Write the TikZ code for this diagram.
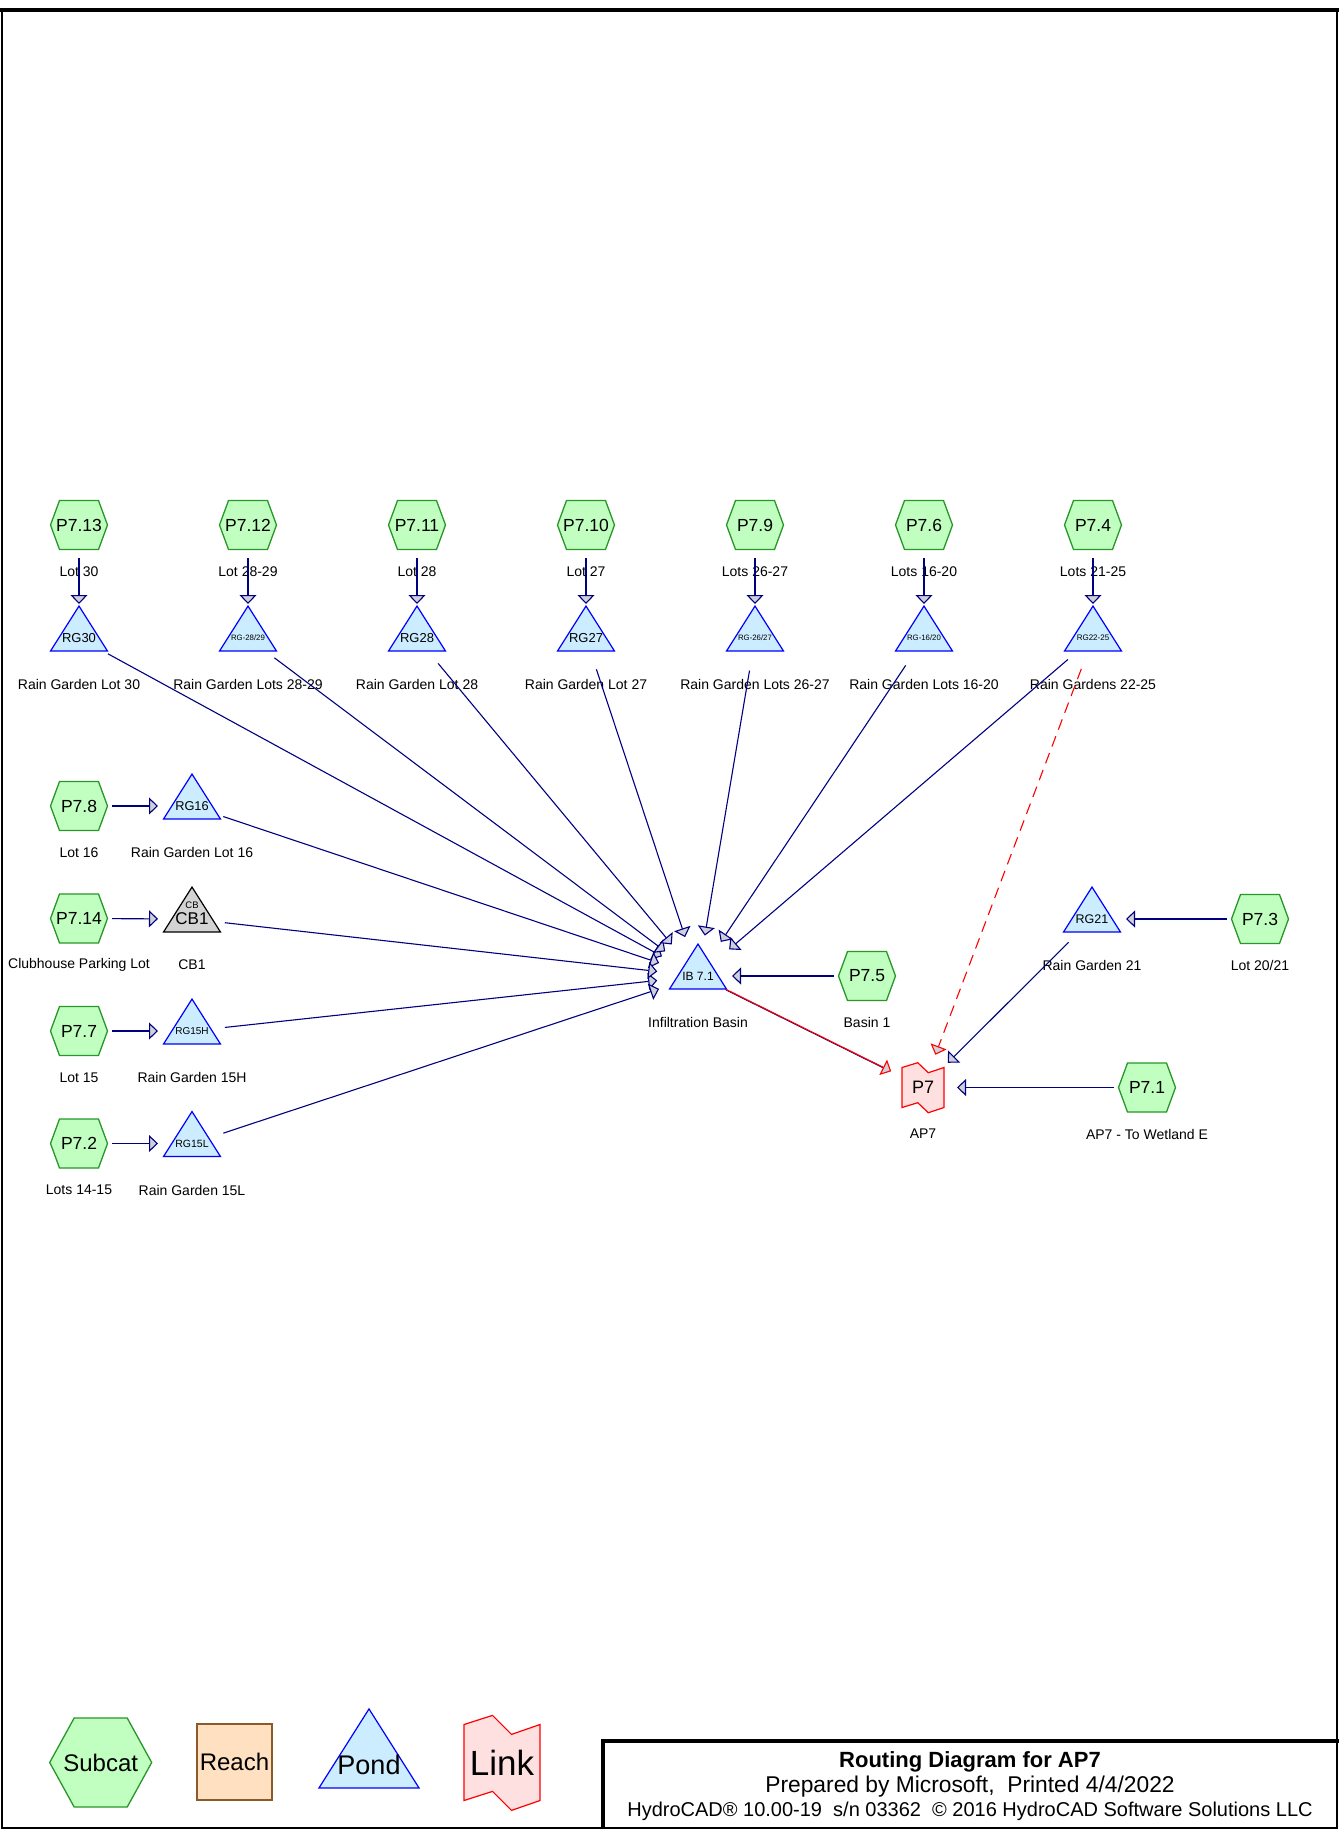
\documentclass[tikz,border=0pt]{standalone}
\usepackage{fontspec}
\setmainfont{Liberation Sans}
\usetikzlibrary{arrows.meta,calc}
\definecolor{flowNavy}{RGB}{0,0,128}
\definecolor{headGray}{RGB}{208,208,218}
\definecolor{subFill}{RGB}{192,255,192}
\definecolor{subLine}{RGB}{40,150,40}
\definecolor{pondFill}{RGB}{204,236,255}
\definecolor{pondLine}{RGB}{0,0,255}
\definecolor{linkFill}{RGB}{255,224,224}
\definecolor{reachFill}{RGB}{255,224,192}
\definecolor{reachLine}{RGB}{140,90,40}
\definecolor{cbFill}{RGB}{211,211,211}
\newcommand{\fs}[1]{\fontsize{#1pt}{#1pt}\selectfont}
\newcommand{\hexpath}[1]{(path picture bounding box.center) ++(-1,0) -- ++({1-#1},1) -- ++({2*#1},0) -- ++({1-#1},-1) -- ++({#1-1},-1) -- ++({-2*#1},0) -- cycle}
\newcommand{\tripath}{(path picture bounding box.center) ++(-1,-0.29) -- ++(2,0) -- ++(-1,1) -- cycle}
\newcommand{\linkpath}{(path picture bounding box.center) ++(-1,1) -- ++(0.75,0.24) -- ++(0.5,-0.5) -- ++(0.75,0.26) -- ++(0,-2) -- ++(-0.75,-0.26) -- ++(-0.5,0.5) -- ++(-0.75,-0.24) -- cycle}
\tikzset{
  shapebox/.style={rectangle, inner sep=0, text=black},
  subcat/.style n args={3}{shapebox, minimum width=2*#1+4, minimum height=2*#2+4,
    path picture={\filldraw[fill=subFill, draw=subLine, line width=1.3, x=#1pt, y=#2pt] \hexpath{#3};}},
  basin/.style n args={4}{shapebox, minimum width=2*#1+4, minimum height=2*#2+4,
    path picture={\filldraw[fill=#3, draw=#4, line width=1.2, x=#1pt, y=#2pt] \tripath;}},
  linkbox/.style 2 args={shapebox, minimum width=2*#1+4, minimum height=2.6*#2+4,
    path picture={\filldraw[fill=linkFill, draw=red, line width=1.2, x=#1pt, y=#2pt] \linkpath;}},
  hex/.style={subcat={28.5}{24.5}{0.684}, font=\fs{17.5}},
  pond/.style={basin={28.5}{45}{pondFill}{pondLine}, font=\fs{13}},
  lbl/.style={inner sep=0, font=\fs{14}},
  flow/.style={draw=flowNavy, line width=1.1, -{Triangle[length=9pt, width=17pt, fill=headGray]}, shorten <=33pt, shorten >=34pt},
  toib/.style={flow, shorten >=41pt}
}
\begin{document}
\begin{tikzpicture}[x=1pt, y=-1pt]
  \useasboundingbox (0,0) rectangle (1339,1829);
  \draw[line width=2] (1.5,10) rectangle (1336.5,1827.8);
  \draw[line width=4] (0,10) -- (1339,10);

  \node[pond, font=\fs{12}] (ib) at (698,976) {IB 7.1};
  \node[lbl] (ibl) at (698,1022.5) {Infiltration Basin};
  \node[hex] (p75) at (867,976) {P7.5};
  \node[lbl] (p75l) at (867,1022.5) {Basin 1};
  \node[linkbox={21}{20}, font=\fs{18}] (ap7) at (923,1087.5) {P7};
  \node[lbl] (ap7l) at (923,1134) {AP7};
  \node[hex] (p71) at (1147,1087.5) {P7.1};
  \node[lbl] (p71l) at (1147,1134) {AP7 - To Wetland E};
  \node[pond, font=\fs{12.5}] (rg21) at (1092,919) {RG21};
  \node[lbl] (rg21l) at (1092,965.5) {Rain Garden 21};
  \node[hex] (p73) at (1260,919) {P7.3};
  \node[lbl] (p73l) at (1260,965.5) {Lot 20/21};

  \foreach \i/\x/\htxt/\lot/\rtxt/\rfs/\rlbl in {
      1/79/P7.13/Lot 30/RG30/13/Rain Garden Lot 30,
      2/248/P7.12/Lot 28-29/{RG-28/29}/7.8/Rain Garden Lots 28-29,
      3/417/P7.11/Lot 28/RG28/13/Rain Garden Lot 28,
      4/586/P7.10/Lot 27/RG27/13/Rain Garden Lot 27,
      5/755/P7.9/Lots 26-27/{RG-26/27}/7.8/Rain Garden Lots 26-27,
      6/924/P7.6/Lots 16-20/{RG-16/20}/7.8/Rain Garden Lots 16-20,
      7/1093/P7.4/Lots 21-25/RG22-25/8/Rain Gardens 22-25} {
    \node[hex] (h\i) at (\x,525) {\htxt};
    \node[lbl] (hl\i) at (\x,571.5) {\lot};
    \node[pond, font=\fs{\rfs}] (r\i) at (\x,638) {\rtxt};
    \node[lbl] (rl\i) at (\x,684.5) {\rlbl};
    \draw[flow] (h\i.center) -- (r\i.center);
    \draw[toib] (r\i.center) -- (ib.center);
  }

  \foreach \i/\y/\htxt/\lot/\rtxt/\rfs/\rlbl in {
      8/806/P7.8/Lot 16/RG16/12.8/Rain Garden Lot 16,
      10/1031/P7.7/Lot 15/RG15H/10/Rain Garden 15H,
      11/1143.5/P7.2/Lots 14-15/RG15L/10.5/Rain Garden 15L} {
    \node[hex] (h\i) at (79,\y) {\htxt};
    \node[lbl] (hl\i) at (79,\y+46.5) {\lot};
    \node[pond, font=\fs{\rfs}] (r\i) at (192,\y) {\rtxt};
    \node[lbl] (rl\i) at (192,\y+46.5) {\rlbl};
    \draw[flow] (h\i.center) -- (r\i.center);
    \draw[toib] (r\i.center) -- (ib.center);
  }

  \node[hex] (h9) at (79,918.5) {P7.14};
  \node[lbl] (hl9) at (79,965) {Clubhouse Parking Lot};
  \node[basin={28.5}{45}{cbFill}{black}, font=\fs{17}] (cb1) at (192,919) {CB1};
  \node[inner sep=0, font=\fs{9.5}] (cbtag) at (192,905.5) {CB};
  \node[lbl] (cb1l) at (192,965) {CB1};
  \draw[flow] (h9.center) -- (cb1.center);
  \draw[toib] (cb1.center) -- (ib.center);

  \draw[flow] (p75.center) -- (ib.center);
  \draw[flow] (p73.center) -- (rg21.center);
  \draw[flow] (p71.center) -- (ap7.center);
  \draw[flow, shorten >=35pt] (rg21.center) -- (ap7.center);
  \draw[flowNavy, line width=1.1, shorten <=31pt, shorten >=44pt] (ib.center) -- (ap7.center);
  \draw[flow, draw=red, shorten <=31pt, shorten >=35pt, transform canvas={shift={(-0.4pt,0.7pt)}}] (ib.center) -- (ap7.center);
  \draw[flow, draw=red, dash pattern=on 11pt off 7pt, shorten >=35pt] (r7.center) -- (ap7.center);

  \node[subcat={51}{44.5}{0.52}, font=\fs{24}] (lgsub) at (100.7,1762.5) {Subcat};
  \node[draw=reachLine, fill=reachFill, line width=1.3, minimum width=75, minimum height=76, inner sep=0, font=\fs{24}] (lgreach) at (234.5,1762) {Reach};
  \node[basin={50}{79}{pondFill}{pondLine}, font=\fs{27}] (lgpond) at (369,1765) {Pond};
  \node[linkbox={38}{38}, font=\fs{35}] (lglink) at (502,1762.5) {Link};

  \draw[line width=4] (602.5,1829) -- (602.5,1740.7) -- (1339,1740.7);
  \node[font=\fs{22}\bfseries] (ttl) at (970,1762) {Routing Diagram for AP7};
  \node[font=\fs{22.8}] (prep) at (970,1787) {Prepared by Microsoft,\ \ Printed 4/4/2022};
  \node[font=\fs{20}] (ver) at (970,1811) {HydroCAD® 10.00-19\ \ s/n 03362\ \ © 2016 HydroCAD Software Solutions LLC};
\end{tikzpicture}
\end{document}
